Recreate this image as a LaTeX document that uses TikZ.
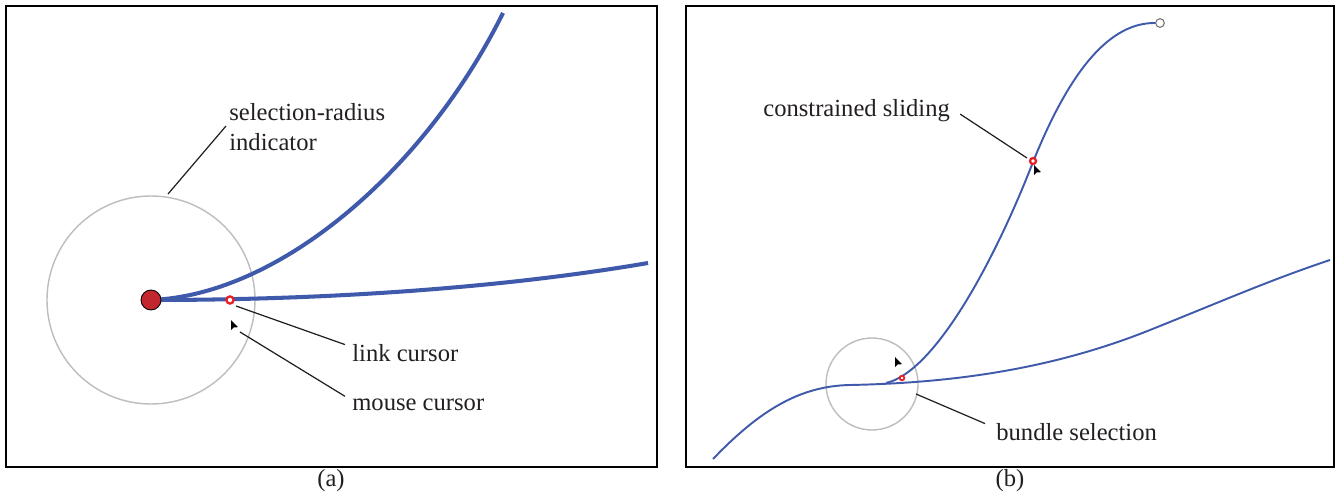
\documentclass[tikz,border=0pt]{standalone}
\usepackage{fontspec}
\setmainfont{Liberation Serif}
\usepackage{xcolor}
\definecolor{linkBlue}{HTML}{3F5AAB}
\definecolor{nodeRed}{HTML}{C1272D}
\definecolor{ringRed}{HTML}{E81E25}
\definecolor{radGray}{HTML}{BDBDBD}
\definecolor{inkGray}{HTML}{231F20}
\usepackage{tikz}

\tikzset{
  frame/.style={black, line width=1.4pt},
  linkthick/.style={linkBlue, line width=2.3pt},
  linkthin/.style={linkBlue, line width=1.1pt},
  radius ring/.style={radGray, line width=0.8pt},
  leader/.style={inkGray, line width=0.7pt},
  lbl/.style={inkGray, inner sep=0pt, font=\fontsize{14}{17}\selectfont},
  pointer/.pic={\fill[black] (0,0) -- (0,10) -- (2.6,7.4) -- (7,7.2) -- cycle;}
}

\begin{document}
\begin{tikzpicture}[x=0.02cm, y=-0.02cm]
  \useasboundingbox (0,0) rectangle (1341,496);
  % two panels
  \draw[frame] (6,6) rectangle (657,467);
  \draw[frame] (686,6) rectangle (1334,467);
  \node[lbl] (capa) at (331,481) {(a)};
  \node[lbl] (capb) at (1010,481) {(b)};

  % ---- panel (a): selecting one link out of a node
  \draw[radius ring] (151,300) circle (104);
  \draw[linkthick] (151,300) .. controls (280,295) and (425,170) .. (503,13);
  \draw[linkthick] (151,300) .. controls (350,300) and (520,285) .. (648,263);
  \fill[nodeRed, draw=black, line width=0.5pt] (151,300) circle (10);
  \draw[ringRed, fill=white, line width=1.3pt] (230,300) circle (3.6);
  \pic at (231,320) {pointer};
  \coordinate (radtip) at (168,194);
  \coordinate (linktip) at (236,306);
  \coordinate (mousetip) at (240,332);
  \node[lbl, anchor=north west, align=left] (radlbl) at (229,103)
    {selection-radius\\indicator};
  \node[lbl, anchor=base west] (linklbl) at (352,361) {link cursor};
  \node[lbl, anchor=base west] (mouselbl) at (352,410) {mouse cursor};
  \draw[leader] (radlbl.west |- 0,126) ++(-3,0) -- (radtip);
  \draw[leader] (linklbl.west) ++(-7,-8) -- (linktip);
  \draw[leader] (mouselbl.west) ++(-7,-8) -- (mousetip);

  % ---- panel (b): sliding along a bundle
  \draw[radius ring] (872,384) circle (46);
  \draw[linkthin] (713,459) .. controls (760,410) and (800,386) .. (850,385)
    .. controls (950,383) and (1050,370) .. (1150,330)
    .. controls (1220,302) and (1270,280) .. (1330,260);
  \draw[linkthin] (886,383) .. controls (935,372) and (995,260) .. (1033,162)
    .. controls (1070,70) and (1110,22) .. (1156,23);
  \draw[black!55, fill=white, line width=0.6pt] (1160,23) circle (4.3);
  \draw[ringRed, fill=white, line width=1pt] (902,378) circle (2.3);
  \draw[ringRed, fill=white, line width=1.3pt] (1033,161) circle (3);
  \pic at (895,357) {pointer};
  \pic at (1034,165) {pointer};
  \coordinate (slidetip) at (1027,158);
  \coordinate (bundletip) at (916,394);
  \node[lbl, anchor=base west] (slidelbl) at (763,117) {constrained sliding};
  \node[lbl, anchor=base west] (bundlelbl) at (996,440) {bundle selection};
  \draw[leader] (slidelbl.east) ++(10,3) -- (slidetip);
  \draw[leader] (bundlelbl.west) ++(-11,-8) -- (bundletip);
\end{tikzpicture}
\end{document}
